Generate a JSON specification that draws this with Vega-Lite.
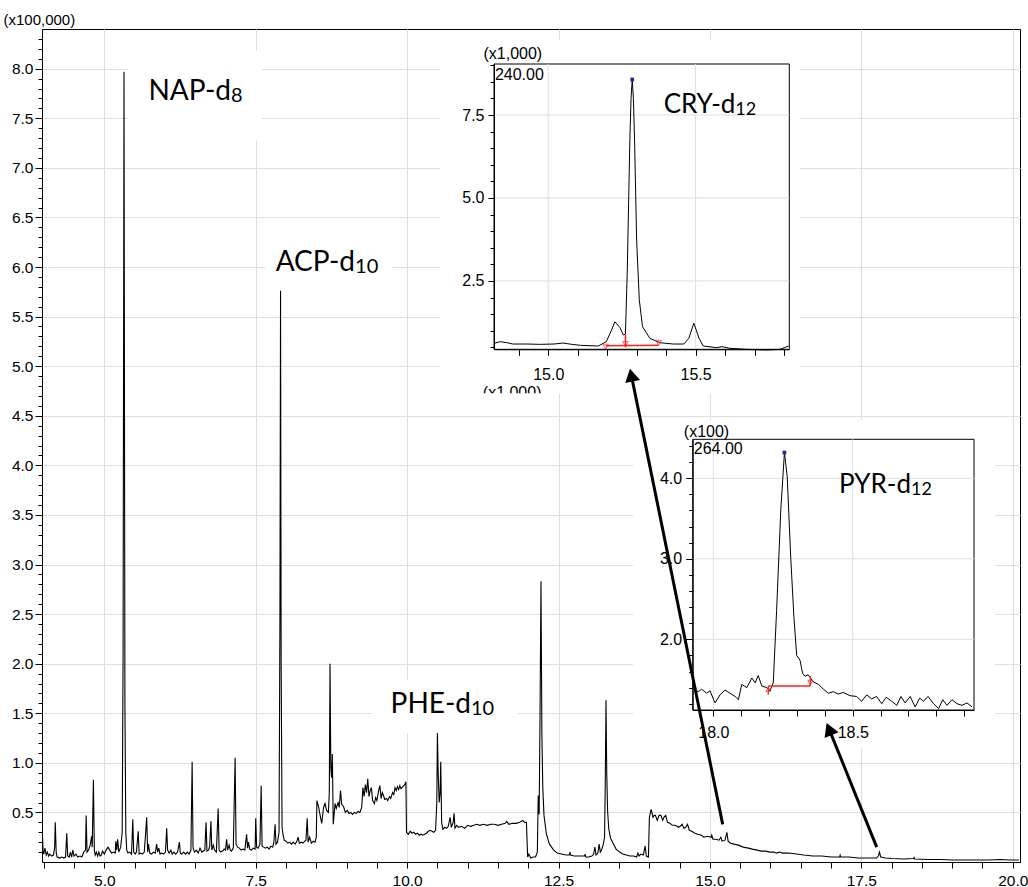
{
"$schema": "https://vega.github.io/schema/vega-lite/v6.json",
"width": 978,
"height": 833,
"autosize": "none",
"padding": {"left": 42, "top": 29, "right": 8, "bottom": 25},
"background": "white",
"config": {
  "view": {"stroke": "black", "strokeWidth": 1},
  "axis": {"labelFont": "Liberation Sans", "titleFont": "Liberation Sans", "labelColor": "black", "titleColor": "black", "tickColor": "black", "domainColor": "black", "titleFontWeight": "normal", "labelOverlap": false, "labelFlush": false, "labelBound": false, "gridColor": "#dedede", "gridWidth": 1},
  "text": {"font": "Lato", "color": "black"}
},
"datasets": {
  "main": [
    {"t":3.98,"i":0.24},{"t":3.99,"i":0.10},{"t":4.00,"i":0.08},{"t":4.02,"i":0.14},{"t":4.04,"i":0.07},{"t":4.06,"i":0.10},{"t":4.08,"i":0.06},{"t":4.10,"i":0.08},{"t":4.13,"i":0.06},{"t":4.16,"i":0.07},{"t":4.18,"i":0.15},{"t":4.19,"i":0.40},{"t":4.205,"i":0.10},{"t":4.22,"i":0.05},{"t":4.26,"i":0.04},{"t":4.30,"i":0.05},{"t":4.33,"i":0.04},{"t":4.36,"i":0.05},{"t":4.38,"i":0.29},{"t":4.395,"i":0.06},{"t":4.42,"i":0.05},{"t":4.44,"i":0.10},{"t":4.46,"i":0.05},{"t":4.48,"i":0.12},{"t":4.50,"i":0.06},{"t":4.53,"i":0.08},{"t":4.56,"i":0.05},{"t":4.60,"i":0.06},{"t":4.63,"i":0.05},{"t":4.66,"i":0.10},{"t":4.69,"i":0.12},{"t":4.70,"i":0.47},{"t":4.715,"i":0.10},{"t":4.74,"i":0.12},{"t":4.77,"i":0.18},{"t":4.79,"i":0.26},{"t":4.80,"i":0.15},{"t":4.82,"i":0.83},{"t":4.835,"i":0.12},{"t":4.85,"i":0.07},{"t":4.87,"i":0.10},{"t":4.89,"i":0.06},{"t":4.91,"i":0.10},{"t":4.93,"i":0.06},{"t":4.95,"i":0.07},{"t":4.97,"i":0.11},{"t":5.00,"i":0.08},{"t":5.03,"i":0.12},{"t":5.06,"i":0.15},{"t":5.09,"i":0.12},{"t":5.12,"i":0.09},{"t":5.15,"i":0.10},{"t":5.18,"i":0.09},{"t":5.19,"i":0.21},{"t":5.205,"i":0.12},{"t":5.22,"i":0.23},{"t":5.24,"i":0.10},{"t":5.27,"i":0.15},{"t":5.295,"i":0.30},{"t":5.31,"i":2.10},{"t":5.325,"i":7.97},{"t":5.34,"i":1.60},{"t":5.355,"i":0.30},{"t":5.37,"i":0.12},{"t":5.39,"i":0.09},{"t":5.42,"i":0.10},{"t":5.45,"i":0.08},{"t":5.47,"i":0.43},{"t":5.485,"i":0.10},{"t":5.51,"i":0.08},{"t":5.53,"i":0.10},{"t":5.56,"i":0.31},{"t":5.575,"i":0.08},{"t":5.60,"i":0.09},{"t":5.63,"i":0.08},{"t":5.66,"i":0.10},{"t":5.70,"i":0.45},{"t":5.715,"i":0.10},{"t":5.73,"i":0.18},{"t":5.75,"i":0.09},{"t":5.78,"i":0.08},{"t":5.81,"i":0.10},{"t":5.84,"i":0.09},{"t":5.865,"i":0.18},{"t":5.88,"i":0.10},{"t":5.90,"i":0.14},{"t":5.92,"i":0.08},{"t":5.95,"i":0.09},{"t":5.98,"i":0.08},{"t":6.01,"i":0.10},{"t":6.03,"i":0.34},{"t":6.045,"i":0.12},{"t":6.07,"i":0.09},{"t":6.10,"i":0.12},{"t":6.12,"i":0.08},{"t":6.15,"i":0.10},{"t":6.18,"i":0.08},{"t":6.21,"i":0.10},{"t":6.24,"i":0.20},{"t":6.255,"i":0.09},{"t":6.28,"i":0.08},{"t":6.31,"i":0.10},{"t":6.34,"i":0.08},{"t":6.37,"i":0.10},{"t":6.40,"i":0.08},{"t":6.43,"i":0.12},{"t":6.45,"i":1.01},{"t":6.465,"i":0.14},{"t":6.49,"i":0.10},{"t":6.52,"i":0.12},{"t":6.55,"i":0.09},{"t":6.58,"i":0.14},{"t":6.61,"i":0.10},{"t":6.66,"i":0.12},{"t":6.68,"i":0.40},{"t":6.695,"i":0.11},{"t":6.72,"i":0.12},{"t":6.74,"i":0.16},{"t":6.76,"i":0.41},{"t":6.775,"i":0.12},{"t":6.80,"i":0.17},{"t":6.82,"i":0.12},{"t":6.85,"i":0.10},{"t":6.88,"i":0.54},{"t":6.895,"i":0.12},{"t":6.92,"i":0.10},{"t":6.95,"i":0.11},{"t":6.98,"i":0.13},{"t":7.00,"i":0.12},{"t":7.02,"i":0.23},{"t":7.035,"i":0.12},{"t":7.06,"i":0.17},{"t":7.08,"i":0.12},{"t":7.10,"i":0.11},{"t":7.13,"i":0.14},{"t":7.16,"i":1.05},{"t":7.175,"i":0.18},{"t":7.20,"i":0.15},{"t":7.23,"i":0.14},{"t":7.26,"i":0.12},{"t":7.29,"i":0.13},{"t":7.32,"i":0.12},{"t":7.35,"i":0.28},{"t":7.365,"i":0.14},{"t":7.38,"i":0.20},{"t":7.40,"i":0.13},{"t":7.43,"i":0.12},{"t":7.46,"i":0.14},{"t":7.49,"i":0.13},{"t":7.50,"i":0.44},{"t":7.515,"i":0.15},{"t":7.54,"i":0.14},{"t":7.57,"i":0.18},{"t":7.59,"i":0.77},{"t":7.605,"i":0.16},{"t":7.63,"i":0.15},{"t":7.66,"i":0.14},{"t":7.69,"i":0.15},{"t":7.72,"i":0.13},{"t":7.75,"i":0.16},{"t":7.78,"i":0.15},{"t":7.80,"i":0.20},{"t":7.82,"i":0.38},{"t":7.835,"i":0.18},{"t":7.86,"i":0.20},{"t":7.885,"i":0.30},{"t":7.90,"i":2.5},{"t":7.91,"i":5.76},{"t":7.92,"i":2.0},{"t":7.935,"i":0.35},{"t":7.95,"i":0.28},{"t":7.97,"i":0.22},{"t":8.00,"i":0.21},{"t":8.03,"i":0.19},{"t":8.06,"i":0.20},{"t":8.09,"i":0.18},{"t":8.12,"i":0.20},{"t":8.15,"i":0.18},{"t":8.18,"i":0.21},{"t":8.20,"i":0.25},{"t":8.22,"i":0.19},{"t":8.25,"i":0.20},{"t":8.28,"i":0.19},{"t":8.31,"i":0.21},{"t":8.33,"i":0.22},{"t":8.35,"i":0.44},{"t":8.365,"i":0.20},{"t":8.39,"i":0.25},{"t":8.42,"i":0.19},{"t":8.45,"i":0.21},{"t":8.48,"i":0.20},{"t":8.50,"i":0.25},{"t":8.51,"i":0.62},{"t":8.54,"i":0.55},{"t":8.57,"i":0.45},{"t":8.59,"i":0.39},{"t":8.62,"i":0.55},{"t":8.645,"i":0.59},{"t":8.67,"i":0.52},{"t":8.70,"i":0.50},{"t":8.715,"i":0.70},{"t":8.727,"i":2.00},{"t":8.74,"i":0.95},{"t":8.752,"i":0.85},{"t":8.765,"i":1.09},{"t":8.78,"i":0.38},{"t":8.79,"i":0.45},{"t":8.81,"i":0.59},{"t":8.83,"i":0.54},{"t":8.86,"i":0.60},{"t":8.88,"i":0.55},{"t":8.90,"i":0.72},{"t":8.92,"i":0.58},{"t":8.95,"i":0.56},{"t":8.98,"i":0.50},{"t":9.01,"i":0.52},{"t":9.04,"i":0.49},{"t":9.07,"i":0.50},{"t":9.10,"i":0.48},{"t":9.13,"i":0.50},{"t":9.16,"i":0.49},{"t":9.19,"i":0.51},{"t":9.22,"i":0.50},{"t":9.25,"i":0.55},{"t":9.27,"i":0.75},{"t":9.29,"i":0.66},{"t":9.31,"i":0.78},{"t":9.33,"i":0.70},{"t":9.35,"i":0.84},{"t":9.37,"i":0.66},{"t":9.39,"i":0.72},{"t":9.41,"i":0.75},{"t":9.43,"i":0.62},{"t":9.46,"i":0.59},{"t":9.48,"i":0.65},{"t":9.50,"i":0.62},{"t":9.53,"i":0.72},{"t":9.55,"i":0.77},{"t":9.57,"i":0.64},{"t":9.59,"i":0.70},{"t":9.61,"i":0.67},{"t":9.63,"i":0.63},{"t":9.66,"i":0.64},{"t":9.68,"i":0.62},{"t":9.71,"i":0.66},{"t":9.73,"i":0.64},{"t":9.76,"i":0.70},{"t":9.78,"i":0.68},{"t":9.80,"i":0.75},{"t":9.82,"i":0.72},{"t":9.84,"i":0.76},{"t":9.86,"i":0.73},{"t":9.88,"i":0.77},{"t":9.90,"i":0.74},{"t":9.93,"i":0.76},{"t":9.96,"i":0.78},{"t":9.98,"i":0.81},{"t":9.99,"i":0.30},{"t":10.02,"i":0.28},{"t":10.05,"i":0.31},{"t":10.08,"i":0.29},{"t":10.11,"i":0.30},{"t":10.14,"i":0.28},{"t":10.17,"i":0.29},{"t":10.20,"i":0.27},{"t":10.23,"i":0.28},{"t":10.26,"i":0.27},{"t":10.29,"i":0.28},{"t":10.32,"i":0.29},{"t":10.35,"i":0.31},{"t":10.38,"i":0.32},{"t":10.41,"i":0.31},{"t":10.44,"i":0.30},{"t":10.47,"i":0.32},{"t":10.49,"i":0.60},{"t":10.50,"i":1.30},{"t":10.515,"i":0.85},{"t":10.53,"i":0.60},{"t":10.545,"i":0.70},{"t":10.555,"i":1.01},{"t":10.57,"i":0.40},{"t":10.59,"i":0.33},{"t":10.62,"i":0.35},{"t":10.65,"i":0.34},{"t":10.68,"i":0.36},{"t":10.70,"i":0.42},{"t":10.71,"i":0.45},{"t":10.73,"i":0.35},{"t":10.76,"i":0.40},{"t":10.775,"i":0.49},{"t":10.79,"i":0.34},{"t":10.82,"i":0.37},{"t":10.85,"i":0.35},{"t":10.90,"i":0.36},{"t":10.95,"i":0.34},{"t":11.00,"i":0.37},{"t":11.05,"i":0.36},{"t":11.10,"i":0.37},{"t":11.15,"i":0.38},{"t":11.20,"i":0.37},{"t":11.26,"i":0.38},{"t":11.32,"i":0.37},{"t":11.38,"i":0.38},{"t":11.44,"i":0.38},{"t":11.50,"i":0.37},{"t":11.56,"i":0.38},{"t":11.62,"i":0.39},{"t":11.645,"i":0.41},{"t":11.68,"i":0.38},{"t":11.74,"i":0.39},{"t":11.80,"i":0.39},{"t":11.86,"i":0.40},{"t":11.91,"i":0.42},{"t":11.94,"i":0.40},{"t":11.97,"i":0.40},{"t":11.99,"i":0.05},{"t":12.01,"i":0.08},{"t":12.04,"i":0.04},{"t":12.08,"i":0.05},{"t":12.12,"i":0.05},{"t":12.15,"i":0.10},{"t":12.165,"i":0.67},{"t":12.18,"i":0.48},{"t":12.195,"i":1.5},{"t":12.21,"i":2.83},{"t":12.225,"i":1.3},{"t":12.24,"i":0.75},{"t":12.26,"i":0.47},{"t":12.30,"i":0.28},{"t":12.35,"i":0.18},{"t":12.42,"i":0.12},{"t":12.48,"i":0.09},{"t":12.55,"i":0.08},{"t":12.62,"i":0.07},{"t":12.68,"i":0.07},{"t":12.69,"i":0.10},{"t":12.70,"i":0.07},{"t":12.76,"i":0.06},{"t":12.82,"i":0.06},{"t":12.88,"i":0.06},{"t":12.93,"i":0.06},{"t":12.94,"i":0.08},{"t":12.95,"i":0.05},{"t":13.00,"i":0.05},{"t":13.05,"i":0.06},{"t":13.08,"i":0.08},{"t":13.10,"i":0.15},{"t":13.12,"i":0.07},{"t":13.15,"i":0.09},{"t":13.17,"i":0.18},{"t":13.19,"i":0.10},{"t":13.21,"i":0.12},{"t":13.24,"i":0.18},{"t":13.26,"i":0.25},{"t":13.272,"i":0.80},{"t":13.284,"i":1.63},{"t":13.296,"i":0.90},{"t":13.31,"i":0.52},{"t":13.33,"i":0.33},{"t":13.36,"i":0.24},{"t":13.40,"i":0.19},{"t":13.45,"i":0.13},{"t":13.51,"i":0.10},{"t":13.56,"i":0.08},{"t":13.62,"i":0.07},{"t":13.68,"i":0.06},{"t":13.74,"i":0.06},{"t":13.79,"i":0.05},{"t":13.81,"i":0.09},{"t":13.83,"i":0.06},{"t":13.86,"i":0.08},{"t":13.90,"i":0.07},{"t":13.93,"i":0.16},{"t":13.95,"i":0.06},{"t":13.985,"i":0.05},{"t":14.00,"i":0.45},{"t":14.03,"i":0.53},{"t":14.06,"i":0.45},{"t":14.08,"i":0.47},{"t":14.10,"i":0.47},{"t":14.13,"i":0.42},{"t":14.16,"i":0.47},{"t":14.19,"i":0.47},{"t":14.22,"i":0.42},{"t":14.24,"i":0.45},{"t":14.27,"i":0.47},{"t":14.30,"i":0.40},{"t":14.34,"i":0.39},{"t":14.38,"i":0.37},{"t":14.42,"i":0.37},{"t":14.46,"i":0.36},{"t":14.48,"i":0.35},{"t":14.51,"i":0.36},{"t":14.54,"i":0.38},{"t":14.57,"i":0.34},{"t":14.60,"i":0.35},{"t":14.63,"i":0.38},{"t":14.66,"i":0.32},{"t":14.70,"i":0.31},{"t":14.75,"i":0.29},{"t":14.80,"i":0.28},{"t":14.86,"i":0.27},{"t":14.90,"i":0.25},{"t":14.96,"i":0.26},{"t":15.02,"i":0.25},{"t":15.03,"i":0.27},{"t":15.05,"i":0.23},{"t":15.10,"i":0.23},{"t":15.15,"i":0.22},{"t":15.18,"i":0.25},{"t":15.20,"i":0.21},{"t":15.25,"i":0.22},{"t":15.28,"i":0.30},{"t":15.30,"i":0.21},{"t":15.34,"i":0.19},{"t":15.40,"i":0.18},{"t":15.47,"i":0.17},{"t":15.55,"i":0.15},{"t":15.635,"i":0.14},{"t":15.70,"i":0.13},{"t":15.78,"i":0.12},{"t":15.85,"i":0.11},{"t":15.92,"i":0.11},{"t":15.99,"i":0.10},{"t":16.05,"i":0.10},{"t":16.10,"i":0.09},{"t":16.15,"i":0.10},{"t":16.20,"i":0.09},{"t":16.30,"i":0.09},{"t":16.43,"i":0.08},{"t":16.55,"i":0.07},{"t":16.70,"i":0.06},{"t":16.85,"i":0.06},{"t":17.00,"i":0.05},{"t":17.14,"i":0.05},{"t":17.15,"i":0.07},{"t":17.16,"i":0.05},{"t":17.30,"i":0.05},{"t":17.45,"i":0.04},{"t":17.60,"i":0.04},{"t":17.75,"i":0.04},{"t":17.78,"i":0.06},{"t":17.80,"i":0.10},{"t":17.82,"i":0.05},{"t":17.90,"i":0.04},{"t":18.00,"i":0.035},{"t":18.20,"i":0.03},{"t":18.36,"i":0.035},{"t":18.37,"i":0.045},{"t":18.38,"i":0.03},{"t":18.60,"i":0.025},{"t":18.80,"i":0.025},{"t":19.00,"i":0.02},{"t":19.20,"i":0.02},{"t":19.40,"i":0.02},{"t":19.60,"i":0.02},{"t":19.80,"i":0.025},{"t":19.95,"i":0.02},{"t":20.10,"i":0.02}
  ],
  "cry": [
    {"t":14.816,"i":0.62},{"t":14.837,"i":0.67},{"t":14.86,"i":0.64},{"t":14.88,"i":0.60},{"t":14.93,"i":0.60},{"t":14.97,"i":0.59},{"t":15.02,"i":0.60},{"t":15.05,"i":0.63},{"t":15.08,"i":0.59},{"t":15.11,"i":0.56},{"t":15.17,"i":0.54},{"t":15.197,"i":0.67},{"t":15.215,"i":1.02},{"t":15.226,"i":1.27},{"t":15.243,"i":1.10},{"t":15.255,"i":0.87},{"t":15.262,"i":0.90},{"t":15.268,"i":2.73},{"t":15.277,"i":6.75},{"t":15.281,"i":8.0},{"t":15.285,"i":8.57},{"t":15.289,"i":8.0},{"t":15.293,"i":6.75},{"t":15.30,"i":3.73},{"t":15.309,"i":1.93},{"t":15.32,"i":1.12},{"t":15.345,"i":0.77},{"t":15.379,"i":0.64},{"t":15.424,"i":0.60},{"t":15.46,"i":0.60},{"t":15.477,"i":0.77},{"t":15.494,"i":1.23},{"t":15.512,"i":0.77},{"t":15.526,"i":0.54},{"t":15.571,"i":0.49},{"t":15.59,"i":0.52},{"t":15.617,"i":0.47},{"t":15.673,"i":0.44},{"t":15.74,"i":0.42},{"t":15.786,"i":0.44},{"t":15.816,"i":0.54}
  ],
  "pyr": [
    {"t":17.931,"i":1.37},{"t":17.946,"i":1.35},{"t":17.958,"i":1.38},{"t":17.976,"i":1.33},{"t":17.988,"i":1.36},{"t":18.006,"i":1.21},{"t":18.024,"i":1.31},{"t":18.042,"i":1.37},{"t":18.06,"i":1.33},{"t":18.078,"i":1.29},{"t":18.09,"i":1.25},{"t":18.102,"i":1.44},{"t":18.12,"i":1.40},{"t":18.138,"i":1.52},{"t":18.15,"i":1.46},{"t":18.161,"i":1.55},{"t":18.174,"i":1.42},{"t":18.191,"i":1.40},{"t":18.203,"i":1.36},{"t":18.215,"i":1.46},{"t":18.227,"i":2.36},{"t":18.242,"i":3.61},{"t":18.255,"i":4.32},{"t":18.265,"i":4.02},{"t":18.278,"i":2.99},{"t":18.289,"i":2.28},{"t":18.299,"i":1.80},{"t":18.311,"i":1.74},{"t":18.32,"i":1.58},{"t":18.329,"i":1.54},{"t":18.34,"i":1.56},{"t":18.359,"i":1.47},{"t":18.377,"i":1.44},{"t":18.395,"i":1.38},{"t":18.413,"i":1.33},{"t":18.43,"i":1.35},{"t":18.448,"i":1.32},{"t":18.466,"i":1.34},{"t":18.49,"i":1.30},{"t":18.514,"i":1.29},{"t":18.532,"i":1.23},{"t":18.55,"i":1.31},{"t":18.568,"i":1.26},{"t":18.586,"i":1.29},{"t":18.604,"i":1.20},{"t":18.62,"i":1.28},{"t":18.64,"i":1.23},{"t":18.658,"i":1.18},{"t":18.673,"i":1.29},{"t":18.688,"i":1.21},{"t":18.706,"i":1.29},{"t":18.724,"i":1.16},{"t":18.74,"i":1.27},{"t":18.754,"i":1.23},{"t":18.77,"i":1.29},{"t":18.79,"i":1.20},{"t":18.808,"i":1.14},{"t":18.823,"i":1.25},{"t":18.838,"i":1.18},{"t":18.856,"i":1.25},{"t":18.874,"i":1.20},{"t":18.892,"i":1.18},{"t":18.91,"i":1.21},{"t":18.928,"i":1.16}
  ],
  "mainLabels": [
    {"label":"NAP-d","sub":"8","t":7.092,"i":7.68},
    {"label":"ACP-d","sub":"10","t":9.14,"i":5.955},
    {"label":"PHE-d","sub":"10","t":11.055,"i":1.501}
  ],
  "arrows": [
    {"arrow":"CRY","part":"tail","t":15.211,"i":0.379},
    {"arrow":"CRY","part":"head","t":13.702,"i":4.91},
    {"arrow":"PYR","part":"tail","t":17.754,"i":0.15},
    {"arrow":"PYR","part":"head","t":16.968,"i":1.34}
  ]
},
"layer": [
  {
    "layer": [
      {"data": {"values": [{}]}, "mark": {"type": "rect", "fill": "white"}, "encoding": {"x": {"datum": 5.391}, "x2": {"datum": 7.604}, "y": {"datum": 8.184}, "y2": {"datum": 7.276}}},
      {"data": {"values": [{}]}, "mark": {"type": "rect", "fill": "white"}, "encoding": {"x": {"datum": 7.654}, "x2": {"datum": 9.751}, "y": {"datum": 6.318}, "y2": {"datum": 5.8}}},
      {"data": {"values": [{}]}, "mark": {"type": "rect", "fill": "white"}, "encoding": {"x": {"datum": 9.421}, "x2": {"datum": 11.832}, "y": {"datum": 1.831}, "y2": {"datum": 1.297}}},
      {"data": {"values": [{}]}, "mark": {"type": "rect", "fill": "white"}, "encoding": {"x": {"datum": 10.543}, "x2": {"datum": 16.488}, "y": {"datum": 8.285}, "y2": {"datum": 4.726}}},
      {"data": {"values": [{}]}, "mark": {"type": "rect", "fill": "white"}, "encoding": {"x": {"datum": 13.729}, "x2": {"datum": 19.706}, "y": {"datum": 4.454}, "y2": {"datum": 1.146}}},
      {
        "data": {"name": "main"},
        "mark": {"type": "line", "color": "black", "strokeWidth": 1.1},
        "encoding": {
          "x": {"field": "t", "type": "quantitative",
            "scale": {"domain": [3.971, 20.12], "nice": false, "zero": false},
            "axis": {"orient": "bottom", "title": null, "tickCount": 1000,
              "values": [4,4.5,5,5.5,6,6.5,7,7.5,8,8.5,9,9.5,10,10.5,11,11.5,12,12.5,13,13.5,14,14.5,15,15.5,16,16.5,17,17.5,18,18.5,19,19.5,20],
              "labelExpr": "abs(datum.value/2.5 - round(datum.value/2.5)) < 0.001 ? format(datum.value, '.1f') : ''",
              "tickSize": 6, "labelFontSize": 15.5, "labelPadding": 5, "grid": true,
              "gridOpacity": {"condition": {"test": "abs(datum.value/2.5 - round(datum.value/2.5)) < 0.001", "value": 1}, "value": 0}}},
          "y": {"field": "i", "type": "quantitative",
            "scale": {"domain": [0, 8.4], "nice": false, "zero": false},
            "axis": {"orient": "left", "tickCount": 1000,
              "values": [0.1,0.2,0.3,0.4,0.5,0.6,0.7,0.8,0.9,1,1.1,1.2,1.3,1.4,1.5,1.6,1.7,1.8,1.9,2,2.1,2.2,2.3,2.4,2.5,2.6,2.7,2.8,2.9,3,3.1,3.2,3.3,3.4,3.5,3.6,3.7,3.8,3.9,4,4.1,4.2,4.3,4.4,4.5,4.6,4.7,4.8,4.9,5,5.1,5.2,5.3,5.4,5.5,5.6,5.7,5.8,5.9,6,6.1,6.2,6.3,6.4,6.5,6.6,6.7,6.8,6.9,7,7.1,7.2,7.3,7.4,7.5,7.6,7.7,7.8,7.9,8,8.1,8.2,8.3],
              "labelExpr": "abs(datum.value*2 - round(datum.value*2)) < 0.001 ? format(datum.value, '.1f') : ''",
              "tickSize": {"condition": {"test": "abs(datum.value*2 - round(datum.value*2)) < 0.001", "value": 7}, "value": 4},
              "labelFontSize": 15.5, "labelPadding": 2, "grid": true,
              "gridOpacity": {"condition": {"test": "abs(datum.value*2 - round(datum.value*2)) < 0.001", "value": 1}, "value": 0},
              "title": "(x100,000)", "titleAngle": 0, "titleAlign": "left", "titleBaseline": "middle", "titleX": -39, "titleY": -10, "titleFontSize": 15}}
        }
      },
      {"data": {"name": "mainLabels"}, "mark": {"type": "text", "align": "right", "baseline": "alphabetic", "fontSize": 28}, "encoding": {"x": {"field": "t", "type": "quantitative"}, "y": {"field": "i", "type": "quantitative"}, "text": {"field": "label"}}},
      {"data": {"name": "mainLabels"}, "mark": {"type": "text", "align": "left", "baseline": "alphabetic", "fontSize": 20, "dy": 2}, "encoding": {"x": {"field": "t", "type": "quantitative"}, "y": {"field": "i", "type": "quantitative"}, "text": {"field": "sub"}}}
    ]
  },
  {
    "layer": [
      {"data": {"values": [{}]}, "mark": {"type": "rect", "fill": "white", "stroke": "black", "strokeWidth": 1}, "encoding": {"x": {"datum": 14.816}, "x2": {"datum": 15.818}, "y": {"datum": 0.441}, "y2": {"datum": 9.037}}},
      {"data": {"values": [{}]}, "mark": {"type": "rule", "color": "#dedede"}, "encoding": {"x": {"datum": 15.0}, "y": {"datum": 0.441}, "y2": {"datum": 9.037}}},
      {"data": {"values": [{}]}, "mark": {"type": "rule", "color": "#dedede"}, "encoding": {"x": {"datum": 15.5}, "y": {"datum": 0.441}, "y2": {"datum": 9.037}}},
      {"data": {"values": [{}]}, "mark": {"type": "rule", "color": "#dedede"}, "encoding": {"y": {"datum": 2.5}, "x": {"datum": 14.816}, "x2": {"datum": 15.818}}},
      {"data": {"values": [{}]}, "mark": {"type": "rule", "color": "#dedede"}, "encoding": {"y": {"datum": 5.0}, "x": {"datum": 14.816}, "x2": {"datum": 15.818}}},
      {"data": {"values": [{}]}, "mark": {"type": "rule", "color": "#dedede"}, "encoding": {"y": {"datum": 7.5}, "x": {"datum": 14.816}, "x2": {"datum": 15.818}}},
      {
        "data": {"name": "cry"},
        "mark": {"type": "line", "color": "black", "strokeWidth": 1},
        "encoding": {
          "x": {"field": "t", "type": "quantitative",
            "scale": {"domain": [14.816, 15.818], "range": [452, 747.3], "nice": false, "zero": false},
            "axis": {"orient": "bottom", "offset": -512.7, "zindex": 1, "title": null, "grid": false, "tickCount": 1000,
              "values": [14.9,15,15.1,15.2,15.3,15.4,15.5,15.6,15.7,15.8],
              "labelExpr": "abs(datum.value*2 - round(datum.value*2)) < 0.001 ? format(datum.value, '.1f') : ''",
              "tickSize": 6, "labelFontSize": 16, "labelPadding": 11}},
          "y": {"field": "i", "type": "quantitative",
            "scale": {"domain": [0.441, 9.037], "range": [320.3, 35], "nice": false, "zero": false},
            "axis": {"orient": "left", "offset": -452, "zindex": 1, "grid": false, "tickCount": 1000,
              "values": [0.5,1,1.5,2,2.5,3,3.5,4,4.5,5,5.5,6,6.5,7,7.5,8,8.5,9],
              "labelExpr": "abs(datum.value/2.5 - round(datum.value/2.5)) < 0.001 ? format(datum.value, '.1f') : ''",
              "tickSize": {"condition": {"test": "abs(datum.value/2.5 - round(datum.value/2.5)) < 0.001", "value": 6}, "value": 4},
              "labelFontSize": 16, "labelPadding": 4,
              "title": "(x1,000)", "titleAngle": 0, "titleAlign": "left", "titleBaseline": "middle", "titleX": -11, "titleY": 24, "titleFontSize": 16}}
        }
      },
      {"data": {"values": [{"t": 15.195, "i": 0.55}, {"t": 15.375, "i": 0.56}]}, "mark": {"type": "line", "color": "#ff2020", "strokeWidth": 1.5}, "encoding": {"x": {"field": "t", "type": "quantitative"}, "y": {"field": "i", "type": "quantitative"}}},
      {"data": {"values": [{}]}, "mark": {"type": "rule", "color": "#ff2020", "strokeWidth": 1.5}, "encoding": {"x": {"datum": 15.262}, "y": {"datum": 0.5}, "y2": {"datum": 0.88}}},
      {"data": {"values": [{"t": 15.195, "i": 0.52}, {"t": 15.262, "i": 0.6}, {"t": 15.375, "i": 0.64}]}, "mark": {"type": "point", "shape": "triangle-down", "filled": false, "color": "#ff2020", "size": 30, "strokeWidth": 1}, "encoding": {"x": {"field": "t", "type": "quantitative"}, "y": {"field": "i", "type": "quantitative"}}},
      {"data": {"values": [{"t": 15.285, "i": 8.57}]}, "mark": {"type": "square", "color": "#1f2a9a", "size": 14, "opacity": 1}, "encoding": {"x": {"field": "t", "type": "quantitative"}, "y": {"field": "i", "type": "quantitative"}}},
      {"data": {"values": [{"t": 14.819, "i": 8.70, "txt": "240.00"}]}, "mark": {"type": "text", "align": "left", "baseline": "middle", "font": "Liberation Sans", "fontSize": 16}, "encoding": {"x": {"field": "t", "type": "quantitative"}, "y": {"field": "i", "type": "quantitative"}, "text": {"field": "txt"}}},
      {"data": {"values": [{"t": 14.778, "i": -0.62, "txt": "(x1,000)"}]}, "mark": {"type": "text", "align": "left", "baseline": "top", "font": "Liberation Sans", "fontSize": 16}, "encoding": {"x": {"field": "t", "type": "quantitative"}, "y": {"field": "i", "type": "quantitative"}, "text": {"field": "txt"}}},
      {"data": {"values": [{}]}, "mark": {"type": "rect", "fill": "white"}, "encoding": {"x": {"datum": 14.768}, "x2": {"datum": 15.022}, "y": {"datum": -0.88}, "y2": {"datum": -1.25}}},
      {"data": {"values": [{"t": 15.635, "i": 7.57, "label": "CRY-d", "sub": "12"}]}, "mark": {"type": "text", "align": "right", "baseline": "alphabetic", "fontSize": 26}, "encoding": {"x": {"field": "t", "type": "quantitative"}, "y": {"field": "i", "type": "quantitative"}, "text": {"field": "label"}}},
      {"data": {"values": [{"t": 15.635, "i": 7.57, "label": "CRY-d", "sub": "12"}]}, "mark": {"type": "text", "align": "left", "baseline": "alphabetic", "fontSize": 18, "dy": 2}, "encoding": {"x": {"field": "t", "type": "quantitative"}, "y": {"field": "i", "type": "quantitative"}, "text": {"field": "sub"}}}
    ]
  },
  {
    "layer": [
      {"data": {"values": [{}]}, "mark": {"type": "rect", "fill": "white", "stroke": "black", "strokeWidth": 1}, "encoding": {"x": {"datum": 17.926}, "x2": {"datum": 18.935}, "y": {"datum": 1.122}, "y2": {"datum": 4.484}}},
      {"data": {"values": [{}]}, "mark": {"type": "rule", "color": "#dedede"}, "encoding": {"x": {"datum": 18.0}, "y": {"datum": 1.122}, "y2": {"datum": 4.484}}},
      {"data": {"values": [{}]}, "mark": {"type": "rule", "color": "#dedede"}, "encoding": {"x": {"datum": 18.5}, "y": {"datum": 1.122}, "y2": {"datum": 4.484}}},
      {"data": {"values": [{}]}, "mark": {"type": "rule", "color": "#dedede"}, "encoding": {"y": {"datum": 2.0}, "x": {"datum": 17.926}, "x2": {"datum": 18.935}}},
      {"data": {"values": [{}]}, "mark": {"type": "rule", "color": "#dedede"}, "encoding": {"y": {"datum": 3.0}, "x": {"datum": 17.926}, "x2": {"datum": 18.935}}},
      {"data": {"values": [{}]}, "mark": {"type": "rule", "color": "#dedede"}, "encoding": {"y": {"datum": 4.0}, "x": {"datum": 17.926}, "x2": {"datum": 18.935}}},
      {
        "data": {"name": "pyr"},
        "mark": {"type": "line", "color": "black", "strokeWidth": 1},
        "encoding": {
          "x": {"field": "t", "type": "quantitative",
            "scale": {"domain": [17.926, 18.935], "range": [650.7, 932], "nice": false, "zero": false},
            "axis": {"orient": "bottom", "offset": -152, "zindex": 1, "title": null, "grid": false, "tickCount": 1000,
              "values": [18,18.1,18.2,18.3,18.4,18.5,18.6,18.7,18.8,18.9],
              "labelExpr": "abs(datum.value*2 - round(datum.value*2)) < 0.001 ? format(datum.value, '.1f') : ''",
              "tickSize": 6, "labelFontSize": 16, "labelPadding": 8}},
          "y": {"field": "i", "type": "quantitative",
            "scale": {"domain": [1.122, 4.484], "range": [681, 410.3], "nice": false, "zero": false},
            "axis": {"orient": "left", "offset": -650.7, "zindex": 1, "grid": false, "tickCount": 1000,
              "values": [1.2,1.4,1.6,1.8,2,2.2,2.4,2.6,2.8,3,3.2,3.4,3.6,3.8,4,4.2,4.4],
              "labelExpr": "abs(datum.value - round(datum.value)) < 0.001 ? format(datum.value, '.1f') : ''",
              "tickSize": {"condition": {"test": "abs(datum.value - round(datum.value)) < 0.001", "value": 7}, "value": 4},
              "labelFontSize": 16, "labelPadding": 4,
              "title": "(x100)", "titleAngle": 0, "titleAlign": "left", "titleBaseline": "middle", "titleX": -9.4, "titleY": 402, "titleFontSize": 16}}
        }
      },
      {"data": {"values": [{"t": 18.197, "i": 1.42}, {"t": 18.348, "i": 1.42}]}, "mark": {"type": "line", "color": "#ff2020", "strokeWidth": 1.3}, "encoding": {"x": {"field": "t", "type": "quantitative"}, "y": {"field": "i", "type": "quantitative"}}},
      {"data": {"values": [{}]}, "mark": {"type": "rule", "color": "#ff2020", "strokeWidth": 1.3}, "encoding": {"x": {"datum": 18.197}, "y": {"datum": 1.31}, "y2": {"datum": 1.42}}},
      {"data": {"values": [{}]}, "mark": {"type": "rule", "color": "#ff2020", "strokeWidth": 1.3}, "encoding": {"x": {"datum": 18.348}, "y": {"datum": 1.42}, "y2": {"datum": 1.54}}},
      {"data": {"values": [{"t": 18.197, "i": 1.38}]}, "mark": {"type": "point", "shape": "triangle-up", "filled": false, "color": "#ff2020", "size": 25, "strokeWidth": 1}, "encoding": {"x": {"field": "t", "type": "quantitative"}, "y": {"field": "i", "type": "quantitative"}}},
      {"data": {"values": [{"t": 18.348, "i": 1.46}]}, "mark": {"type": "point", "shape": "triangle-down", "filled": false, "color": "#ff2020", "size": 25, "strokeWidth": 1}, "encoding": {"x": {"field": "t", "type": "quantitative"}, "y": {"field": "i", "type": "quantitative"}}},
      {"data": {"values": [{"t": 18.255, "i": 4.32}]}, "mark": {"type": "square", "color": "#1f2a9a", "size": 14, "opacity": 1}, "encoding": {"x": {"field": "t", "type": "quantitative"}, "y": {"field": "i", "type": "quantitative"}}},
      {"data": {"values": [{"t": 17.93, "i": 4.364, "txt": "264.00"}]}, "mark": {"type": "text", "align": "left", "baseline": "middle", "font": "Liberation Sans", "fontSize": 16}, "encoding": {"x": {"field": "t", "type": "quantitative"}, "y": {"field": "i", "type": "quantitative"}, "text": {"field": "txt"}}},
      {"data": {"values": [{"t": 18.709, "i": 3.82, "label": "PYR-d", "sub": "12"}]}, "mark": {"type": "text", "align": "right", "baseline": "alphabetic", "fontSize": 26}, "encoding": {"x": {"field": "t", "type": "quantitative"}, "y": {"field": "i", "type": "quantitative"}, "text": {"field": "label"}}},
      {"data": {"values": [{"t": 18.709, "i": 3.82, "label": "PYR-d", "sub": "12"}]}, "mark": {"type": "text", "align": "left", "baseline": "alphabetic", "fontSize": 18, "dy": 2}, "encoding": {"x": {"field": "t", "type": "quantitative"}, "y": {"field": "i", "type": "quantitative"}, "text": {"field": "sub"}}}
    ]
  },
  {
    "layer": [
      {
        "data": {"name": "arrows"},
        "mark": {"type": "line", "color": "black", "strokeWidth": 3, "strokeCap": "butt"},
        "encoding": {
          "x": {"field": "t", "type": "quantitative", "scale": {"domain": [3.971, 20.12], "nice": false, "zero": false}, "axis": null},
          "y": {"field": "i", "type": "quantitative", "scale": {"domain": [0, 8.4], "nice": false, "zero": false}, "axis": null},
          "detail": {"field": "arrow"}
        }
      },
      {"data": {"name": "arrows"}, "transform": [{"filter": "datum.arrow === 'CRY' && datum.part === 'head'"}], "mark": {"type": "point", "shape": "triangle-up", "filled": true, "color": "black", "size": 230, "angle": 348.5, "opacity": 1}, "encoding": {"x": {"field": "t", "type": "quantitative"}, "y": {"field": "i", "type": "quantitative"}}},
      {"data": {"name": "arrows"}, "transform": [{"filter": "datum.arrow === 'PYR' && datum.part === 'head'"}], "mark": {"type": "point", "shape": "triangle-up", "filled": true, "color": "black", "size": 230, "angle": 338, "opacity": 1}, "encoding": {"x": {"field": "t", "type": "quantitative"}, "y": {"field": "i", "type": "quantitative"}}}
    ]
  }
],
"resolve": {"scale": {"x": "independent", "y": "independent"}, "axis": {"x": "independent", "y": "independent"}}
}
